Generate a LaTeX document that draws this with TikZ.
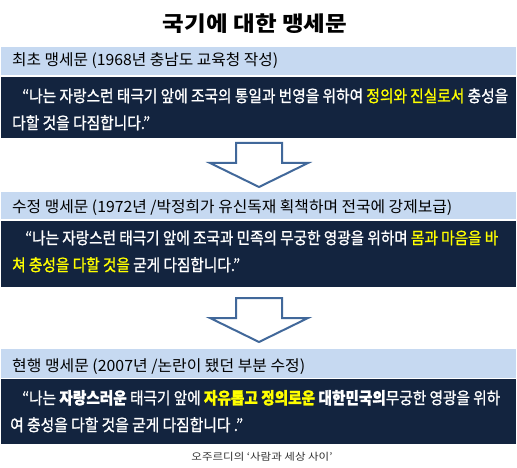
\documentclass[tikz,border=0pt]{standalone}
\usepackage{fontspec}
\usepackage{graphicx}
\setmainfont{Noto Sans CJK KR}
\newfontfamily\krmed[FakeBold=1.2]{Noto Sans CJK KR}
\definecolor{hdr}{HTML}{C6D9F1}
\definecolor{navy}{HTML}{13243F}
\definecolor{arrc}{HTML}{41689A}
\definecolor{hl}{HTML}{FFFF00}
\definecolor{credit}{HTML}{333333}
\newcommand{\fitw}[2]{\resizebox{#1pt}{\height}{#2}}
\tikzset{
  band/.style={fill=hdr, draw=none, inner sep=0pt, anchor=north west, minimum width=515pt},
  darkbox/.style={fill=navy, draw=none, inner sep=0pt, anchor=north west, minimum width=515pt},
  hdrtext/.style={anchor=base west, inner sep=0pt, font=\fontsize{15.5}{18}\selectfont, text=black},
  quotetext/.style={anchor=base west, inner sep=0pt, font=\fontsize{16.5}{19}\selectfont\krmed, text=white},
  blockarrow/.style={draw=arrc, line width=2pt, fill=white, line join=miter},
}
\begin{document}
\begin{tikzpicture}[x=1pt,y=-1pt]
\useasboundingbox (0,0) rectangle (517,468);
\fill[white] (0,0) rectangle (517,468);

% title
\node[anchor=base, inner sep=0pt, font=\fontsize{21}{24}\selectfont\bfseries] (title) at (255,32) {\fitw{184}{국기에 대한 맹세문}};

% section 1
\node[band, minimum height=28pt] (h1) at (1,47) {};
\node[hdrtext] (h1t) at (12,66) {\fitw{266}{최초 맹세문 (1968년 충남도 교육청 작성)}};
\node[darkbox, minimum height=61pt] (d1) at (1,77) {};
\node[quotetext] (d1a) at (22,102) {\fitw{486}{“나는 자랑스런 태극기 앞에 조국의 통일과 번영을 위하여 \textcolor{hl}{정의와 진실로서} 충성을}};
\node[quotetext] (d1b) at (12,129) {\fitw{138}{다할 것을 다짐합니다.”}};

% arrow 1
\draw[blockarrow] (236,143) -- (282,143) -- (282,163) -- (308,163) -- (259,187) -- (210,163) -- (236,163) -- cycle;

% section 2
\node[band, minimum height=27pt] (h2) at (1,192) {};
\node[hdrtext] (h2t) at (12,213) {\fitw{440}{수정 맹세문 (1972년 /박정희가 유신독재 획책하며 전국에 강제보급)}};
\node[darkbox, minimum height=66pt] (d2) at (1,221) {};
\node[quotetext] (d2a) at (25,244) {\fitw{473}{“나는 자랑스런 태극기 앞에 조국과 민족의 무궁한 영광을 위하며 \textcolor{hl}{몸과 마음을 바}}};
\node[quotetext] (d2b) at (12,271) {\fitw{228}{\textcolor{hl}{쳐 충성을 다할 것을} 굳게 다짐합니다.”}};

% arrow 2
\draw[blockarrow] (236,298) -- (282,298) -- (282,318) -- (308,318) -- (259,342) -- (210,318) -- (236,318) -- cycle;

% section 3
\node[band, minimum height=29pt] (h3) at (1,349) {};
\node[hdrtext] (h3t) at (12,371) {\fitw{293}{현행 맹세문 (2007년 /논란이 됐던 부분 수정)}};
\node[darkbox, minimum height=65pt] (d3) at (1,379) {};
\node[quotetext] (d3a) at (22,404) {\fitw{478}{“나는 {\bfseries 자랑스러운} 태극기 앞에 {\bfseries\color{hl}자유롭고 정의로운} {\bfseries 대한민국의}무궁한 영광을 위하}};
\node[quotetext] (d3b) at (10,431) {\fitw{233}{여 충성을 다할 것을 굳게 다짐합니다 .”}};

% credit
\node[anchor=base, inner sep=0pt, font=\fontsize{10}{12}\selectfont, text=credit] (cr) at (262,460) {\fitw{141}{오주르디의 ‘사람과 세상 사이’}};
\end{tikzpicture}
\end{document}
